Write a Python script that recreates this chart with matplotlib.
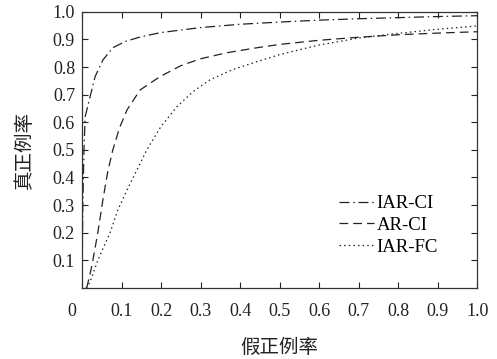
import matplotlib
matplotlib.use("Agg")
import matplotlib.pyplot as plt
import matplotlib.transforms as mtransforms

plt.rcParams['font.family'] = ['Liberation Serif', 'Noto Sans CJK SC']
plt.rcParams['mathtext.fontset'] = 'stix'

labels = ["IAR-CI", "AR-CI", "IAR-FC"]

iar_ci_x = [0, 0.002, 0.005, 0.008, 0.02, 0.033, 0.053, 0.078, 0.11, 0.15, 0.2,
            0.3, 0.4, 0.5, 0.6, 0.7, 0.8, 0.9, 1.0]
iar_ci_y = [0, 0.3, 0.5, 0.62, 0.69, 0.765, 0.826, 0.87, 0.893, 0.91, 0.925,
            0.943, 0.955, 0.963, 0.97, 0.975, 0.979, 0.983, 0.986]

ar_ci_x = [0.012, 0.025, 0.04, 0.053, 0.065, 0.078, 0.095, 0.114, 0.147, 0.197,
           0.25, 0.3, 0.367, 0.443, 0.5, 0.6, 0.7, 0.8, 0.9, 1.0]
ar_ci_y = [0, 0.08, 0.2, 0.32, 0.42, 0.5, 0.58, 0.645, 0.717, 0.765,
           0.805, 0.83, 0.852, 0.87, 0.882, 0.897, 0.908, 0.917, 0.923, 0.928]

iar_fc_x = [0.01, 0.02, 0.04, 0.071, 0.09, 0.114, 0.14, 0.164, 0.2, 0.24,
            0.28, 0.324, 0.38, 0.433, 0.5, 0.6, 0.7, 0.787, 0.9, 1.0]
iar_fc_y = [0.0, 0.02, 0.1, 0.2, 0.28, 0.355, 0.43, 0.5, 0.585, 0.656,
            0.71, 0.754, 0.79, 0.815, 0.845, 0.88, 0.905, 0.92, 0.937, 0.949]

xticks = [0, 0.1, 0.2, 0.3, 0.4, 0.5, 0.6, 0.7, 0.8, 0.9, 1.0]
xticklabels = ["0", "0.1", "0.2", "0.3", "0.4", "0.5", "0.6", "0.7", "0.8", "0.9", "1.0"]
yticks = [0.1, 0.2, 0.3, 0.4, 0.5, 0.6, 0.7, 0.8, 0.9, 1.0]
yticklabels = ["0.1", "0.2", "0.3", "0.4", "0.5", "0.6", "0.7", "0.8", "0.9", "1.0"]

fig = plt.figure(figsize=(4.97, 3.59), dpi=100)
ax = fig.add_axes([0.165, 0.198, 0.795, 0.769])

col = '#222222'
lw = 0.9
ax.plot(iar_ci_x, iar_ci_y, color=col, lw=lw, dashes=[8, 3, 1.2, 3], label=labels[0])
ax.plot(ar_ci_x, ar_ci_y, color=col, lw=lw, dashes=[7, 4], label=labels[1])
ax.plot(iar_fc_x, iar_fc_y, color=col, lw=lw, dashes=[1.2, 2.5], label=labels[2])

ax.set_xlim(0, 1.0)
ax.set_ylim(0, 1.0)
ax.set_xticks(xticks)
ax.set_xticklabels(xticklabels)
ax.set_yticks(yticks)
ax.set_yticklabels(yticklabels)
ax.tick_params(direction='in', top=True, right=True, length=4, width=0.8,
               labelsize=13, colors='#222222')
ax.tick_params(axis='x', pad=11)
ax.tick_params(axis='y', pad=5)
for s in ax.spines.values():
    s.set_linewidth(0.9)
    s.set_color('#333333')

# the "0" label sits a little left of the origin in the reference
off = mtransforms.ScaledTranslation(-10 / 100, 0, fig.dpi_scale_trans)
lbl0 = ax.get_xticklabels()[0]
lbl0.set_transform(lbl0.get_transform() + off)

cjk = ['Noto Sans CJK SC', 'DejaVu Sans']
ax.set_xlabel("假正例率", family=cjk, fontsize=14, labelpad=12, color='#222222')
ax.set_ylabel("真正例率", family=cjk, fontsize=14, labelpad=13, color='#222222')

leg = ax.legend(loc='lower right', bbox_to_anchor=(0.943, 0.055), frameon=False,
                fontsize=13.5, handlelength=1.9, handletextpad=0.1,
                labelspacing=0.25)

fig.savefig("out.png", dpi=100)
